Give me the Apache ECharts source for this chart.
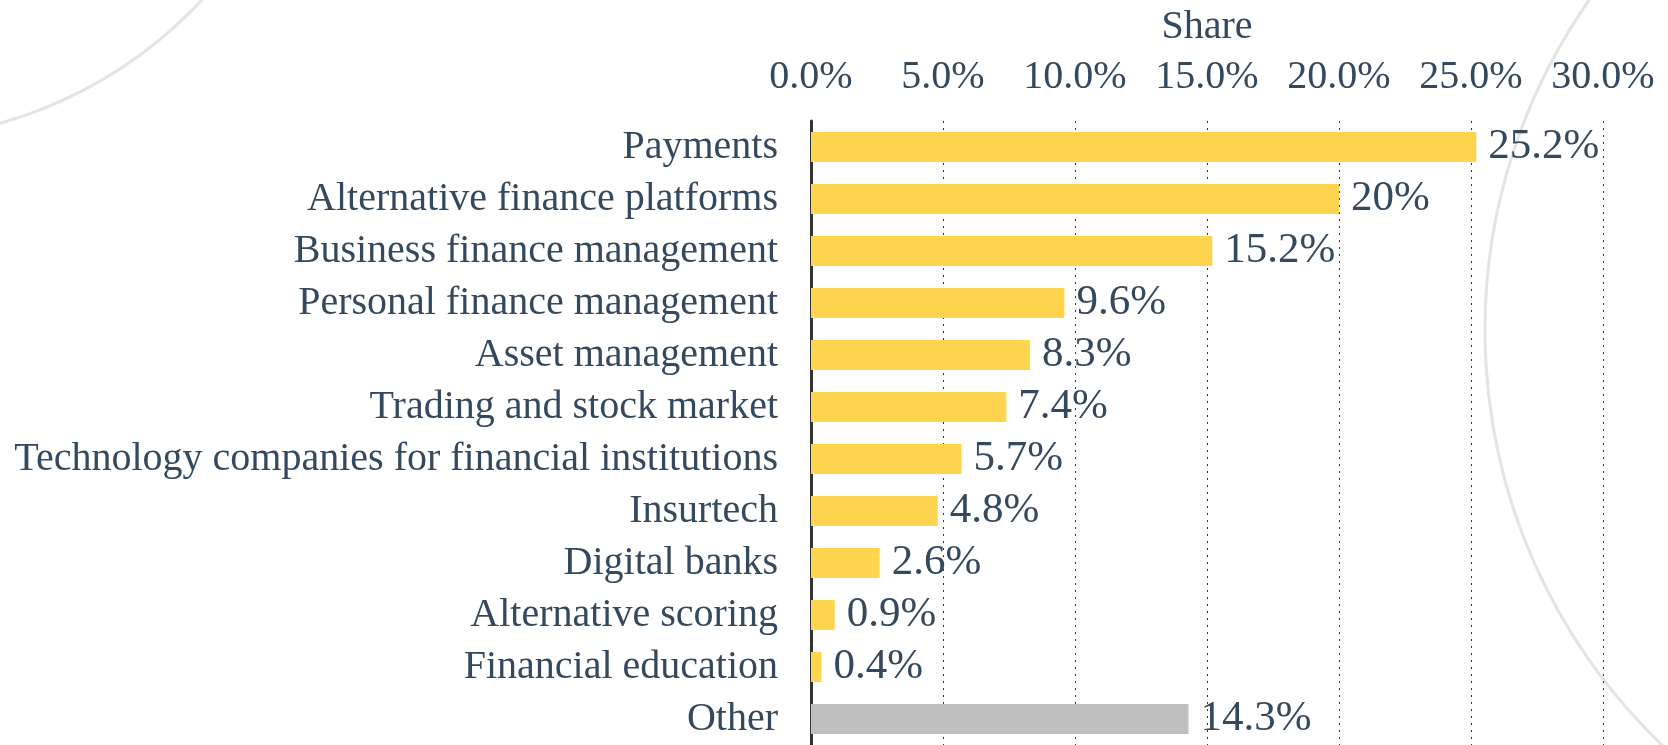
<!DOCTYPE html>
<html>
<head>
<meta charset="utf-8">
<style>
  html, body { margin: 0; padding: 0; background: #fff; }
  #chart { width: 1668px; height: 745px; }
</style>
<script src="https://cdn.jsdelivr.net/npm/echarts@6/dist/echarts.min.js"></script>
</head>
<body>
<div id="chart"></div>
<script>
// categories, top to bottom
var categories = [
  'Payments',
  'Alternative finance platforms',
  'Business finance management',
  'Personal finance management',
  'Asset management',
  'Trading and stock market',
  'Technology companies for financial institutions',
  'Insurtech',
  'Digital banks',
  'Alternative scoring',
  'Financial education',
  'Other'
];
var shares = [25.2, 20, 15.2, 9.6, 8.3, 7.4, 5.7, 4.8, 2.6, 0.9, 0.4, 14.3];
var shareLabels = ['25.2%', '20%', '15.2%', '9.6%', '8.3%', '7.4%', '5.7%', '4.8%', '2.6%', '0.9%', '0.4%', '14.3%'];
var ticks = [0, 5, 10, 15, 20, 25, 30];

var textColor = '#34495e';
var font = 'Liberation Serif';

var myChart = echarts.init(document.getElementById('chart'));

var barData = shares.map(function (v, i) {
  return {
    value: v,
    itemStyle: { color: categories[i] === 'Other' ? '#bfbfbf' : '#ffd54f' }
  };
});

var option = {
  backgroundColor: '#fff',
  animation: false,
  textStyle: { fontFamily: font, color: textColor },
  graphic: [
    {
      type: 'arc', silent: true, z: -1,
      shape: { cx: -120, cy: -300, r: 440, startAngle: 0, endAngle: Math.PI / 2 },
      style: { stroke: '#e4e4e4', lineWidth: 3, fill: null }
    },
    {
      type: 'arc', silent: true, z: -1,
      shape: { cx: 2060, cy: 330, r: 575, startAngle: Math.PI * 0.6, endAngle: Math.PI * 1.45 },
      style: { stroke: '#e4e4e4', lineWidth: 3, fill: null }
    }
  ],
  grid: {
    left: 811,
    right: 65,
    top: 121,
    bottom: -5,
    containLabel: false
  },
  xAxis: {
    type: 'value',
    position: 'top',
    min: ticks[0],
    max: ticks[ticks.length - 1],
    interval: 5,
    name: 'Share',
    nameLocation: 'middle',
    nameGap: 74,
    nameTextStyle: { fontFamily: font, fontSize: 40, color: textColor },
    axisLine: { show: false },
    axisTick: { show: false },
    axisLabel: {
      margin: 24,
      fontFamily: font,
      fontSize: 40,
      color: textColor,
      formatter: function (v) { return v.toFixed(1) + '%'; }
    },
    splitLine: {
      show: true,
      lineStyle: { color: '#333', type: [2, 5], width: 1 }
    }
  },
  yAxis: {
    type: 'category',
    inverse: true,
    data: categories,
    axisLine: { show: true, lineStyle: { color: '#333', width: 3 } },
    axisTick: { show: false },
    axisLabel: {
      interval: 0,
      margin: 33,
      fontFamily: font,
      fontSize: 40,
      color: textColor
    }
  },
  series: [{
    type: 'bar',
    data: barData,
    barWidth: 30,
    label: {
      show: true,
      position: 'right',
      distance: 12,
      fontFamily: font,
      fontSize: 43,
      color: textColor,
      formatter: function (p) { return shareLabels[p.dataIndex]; }
    }
  }]
};

myChart.setOption(option, true);
</script>
</body>
</html>
